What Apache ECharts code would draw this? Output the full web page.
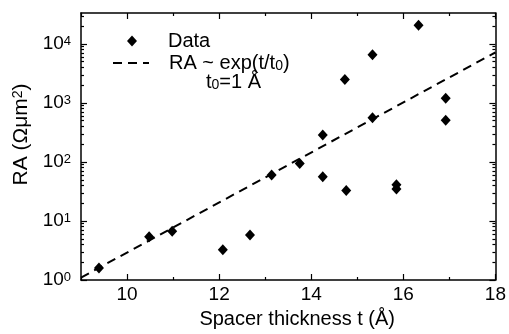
<!DOCTYPE html>
<html>
<head>
<meta charset="utf-8">
<script src="https://cdn.jsdelivr.net/npm/echarts@6.0.0/dist/echarts.min.js"></script>
<style>
  html, body { margin: 0; padding: 0; background: #fff; }
  #chart { width: 509px; height: 334px; }
</style>
</head>
<body>
<div id="chart"></div>
<script>
// measured points, thickness t (Å) and RA (Ω·µm²)
var thickness = [9.39, 10.48, 10.98, 12.08, 12.67, 13.14, 13.75, 14.25, 14.25, 14.73, 14.76, 15.33, 15.33, 15.85, 15.85, 16.33, 16.92, 16.92];
var raValues = [1.6, 5.4, 6.7, 3.25, 5.8, 60, 94, 286, 56, 2510, 33, 6560, 562, 41, 35, 20700, 1200, 509];

// guide line RA ~ exp(t/t0), t0 = 1 Å : its two ends
var lineT = [9, 18];
var lineRA = [1.1, 7200];

var xMajor = [10, 12, 14, 16, 18];
var xMinor = [9, 11, 13, 15, 17];
var yMajor = [1, 10, 100, 1000, 10000];
var yMinor = [];
for (var k = 0; k < 5; k++) {
  for (var m = 2; m <= 9; m++) yMinor.push(m * Math.pow(10, k));
}

var chart = echarts.init(document.getElementById('chart'));

var font = 'Liberation Sans, Arial, sans-serif';
var yMin = 1, yMax = 33500;
var subRich = { sub: { fontSize: 14, fontFamily: font, color: '#000', verticalAlign: 'bottom', lineHeight: 12 } };

function xAxisDef(pos, ticks, len, main) {
  return {
    type: 'value', position: pos, min: 9, max: 18, gridIndex: 0,
    axisLine: { show: main, onZero: false, lineStyle: { color: '#000', width: 1.5 } },
    axisTick: { show: true, inside: true, length: len, customValues: ticks, lineStyle: { color: '#000', width: 1.2 } },
    axisLabel: { show: main && pos === 'bottom', customValues: xMajor, margin: 5, color: '#000', fontSize: 19, fontFamily: font },
    splitLine: { show: false },
    name: (main && pos === 'bottom') ? 'Spacer thickness t (Å)' : '',
    nameLocation: 'middle', nameGap: 29,
    nameTextStyle: { color: '#000', fontSize: 20, fontFamily: font, padding: [0, 0, 0, 18] }
  };
}

function yAxisDef(pos, ticks, len, main) {
  return {
    type: 'log', position: pos, min: yMin, max: yMax, gridIndex: 0,
    axisLine: { show: main, onZero: false, lineStyle: { color: '#000', width: 1.5 } },
    axisTick: { show: true, inside: true, length: len, customValues: ticks, lineStyle: { color: '#000', width: 1.2 } },
    axisLabel: {
      show: main && pos === 'left', customValues: yMajor, margin: 10, color: '#000',
      fontSize: 19, fontFamily: font,
      formatter: function (v) { return '10{sup|' + Math.round(Math.log10(v)) + '}'; },
      rich: { sup: { fontSize: 13, fontFamily: font, color: '#000', verticalAlign: 'top', lineHeight: 12 } }
    },
    splitLine: { show: false },
    name: (main && pos === 'left') ? 'RA (Ωμm{sup|2})' : '',
    nameLocation: 'middle', nameGap: 46,
    nameTextStyle: {
      color: '#000', fontSize: 21, fontFamily: font, padding: [0, 0, 0, 24],
      rich: { sup: { fontSize: 14, fontFamily: font, color: '#000', verticalAlign: 'top', lineHeight: 12 } }
    }
  };
}

var option = {
  backgroundColor: '#fff',
  animation: false,
  grid: { left: 81, right: 1.5, top: 13, bottom: 49.5, containLabel: false },
  xAxis: [
    xAxisDef('bottom', xMajor, 6, true),
    xAxisDef('bottom', xMinor, 3, false),
    xAxisDef('top', xMajor, 6, true),
    xAxisDef('top', xMinor, 3, false)
  ],
  yAxis: [
    yAxisDef('left', yMajor, 6, true),
    yAxisDef('left', yMinor, 3, false),
    yAxisDef('right', yMajor, 6, true),
    yAxisDef('right', yMinor, 3, false)
  ],
  legend: [
    {
      left: 122, top: 26, itemWidth: 10, itemHeight: 11,
      data: [{ name: 'Data', icon: 'diamond' }],
      textStyle: { color: '#000', fontSize: 20, fontFamily: font, padding: [0, 0, 0, 26] }
    },
    {
      left: 107, top: 48, itemWidth: 36, itemHeight: 10,
      data: [{ name: 'RA ~ exp(t/t0)', icon: 'inherit', itemStyle: { color: 'rgba(0,0,0,0)', opacity: 0 } }],
      formatter: function () { return 'RA ~ exp(t/t{sub|0})'; },
      textStyle: { color: '#000', fontSize: 20, fontFamily: font, padding: [0, 0, 0, 15], rich: subRich }
    }
  ],
  graphic: [{
    type: 'text', left: 206, top: 72,
    style: {
      text: 't{sub|0}=1 Å', fill: '#000', font: '20px ' + font,
      rich: { sub: { fontSize: 14, fontFamily: font, fill: '#000', verticalAlign: 'bottom', lineHeight: 12 } }
    }
  }],
  series: [
    {
      name: 'Data', type: 'scatter', xAxisIndex: 0, yAxisIndex: 0,
      symbol: 'diamond', symbolSize: [10, 11],
      itemStyle: { color: '#000', opacity: 1 },
      data: thickness.map(function (t, i) { return [t, raValues[i]]; })
    },
    {
      name: 'RA ~ exp(t/t0)', type: 'line', xAxisIndex: 0, yAxisIndex: 0,
      showSymbol: false, symbol: 'none',
      itemStyle: { color: '#000' },
      lineStyle: { color: '#000', width: 2, type: [9, 6] },
      data: lineT.map(function (t, i) { return [t, lineRA[i]]; })
    }
  ]
};

chart.setOption(option);
</script>
</body>
</html>
